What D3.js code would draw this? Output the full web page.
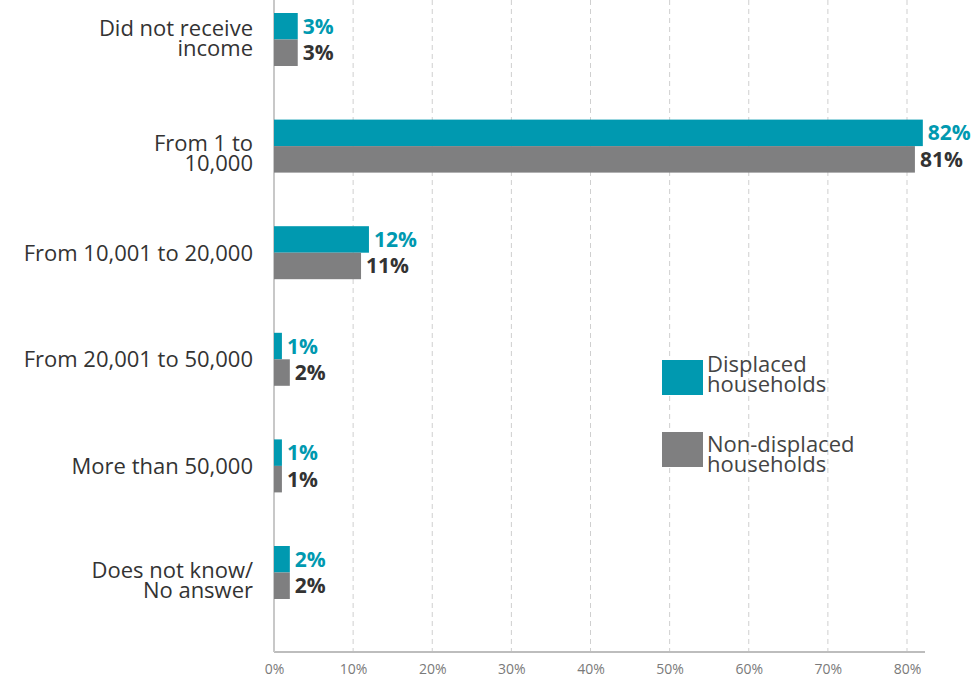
<!DOCTYPE html>
<html>
<head>
<meta charset="utf-8">
<script src="https://cdn.jsdelivr.net/npm/d3@7"></script>
<style>
  html, body { margin: 0; padding: 0; background: #fff; }
  svg { display: block; font-family: "Open Sans", Lato, sans-serif; }
</style>
</head>
<body>
<svg id="chart" width="973" height="682"></svg>
<script>
// Monthly income brackets and share of households in each
const categories = [
  ["Did not receive", "income"],
  ["From 1 to", "10,000"],
  ["From 10,001 to 20,000"],
  ["From 20,001 to 50,000"],
  ["More than 50,000"],
  ["Does not know/", "No answer"]
];
const displaced = [3, 82, 12, 1, 1, 2];
const nonDisplaced = [3, 81, 11, 2, 1, 2];
const seriesNames = [["Displaced", "households"], ["Non-displaced", "households"]];
const tickValues = [0, 10, 20, 30, 40, 50, 60, 70, 80];

const colors = { displaced: "#0099b0", nonDisplaced: "#7f7f80" };

const svg = d3.select("#chart");
const x0 = 274, axisY = 652;

const x = d3.scaleLinear().domain([0, 80]).range([x0, 907]);
const y = d3.scalePoint()
  .domain(d3.range(categories.length))
  .range([39.5, 572.5]);
const barH = 26.5;

// dashed vertical gridlines
svg.append("g")
  .selectAll("line")
  .data(tickValues.filter(d => d > 0))
  .join("line")
  .attr("x1", d => x(d)).attr("x2", d => x(d))
  .attr("y1", 0).attr("y2", axisY)
  .attr("stroke", "#cfcfcf")
  .attr("stroke-width", 1)
  .attr("stroke-dasharray", "5,4");

// x axis
const xAxis = svg.append("g")
  .attr("transform", `translate(0,${axisY})`)
  .call(d3.axisBottom(x).tickValues(tickValues).tickFormat(d => d + "%").tickSize(0).tickPadding(12));
xAxis.select(".domain").remove();
xAxis.selectAll("text")
  .attr("fill", "#7a7a7a")
  .style("font-size", "14px")
  .style("font-family", "'Open Sans', sans-serif");

svg.append("line")
  .attr("x1", x0).attr("x2", 925)
  .attr("y1", axisY).attr("y2", axisY)
  .attr("stroke", "#bdbdbd").attr("stroke-width", 2);
svg.append("line")
  .attr("x1", x0).attr("x2", x0)
  .attr("y1", 0).attr("y2", axisY)
  .attr("stroke", "#c8c8c8").attr("stroke-width", 2);

// bars
const rows = categories.map((c, i) => ({ i, d: displaced[i], n: nonDisplaced[i] }));
const g = svg.append("g");

g.selectAll("rect.disp")
  .data(rows).join("rect")
  .attr("class", "disp")
  .attr("x", x0)
  .attr("y", r => y(r.i) - barH)
  .attr("width", r => x(r.d) - x0)
  .attr("height", barH)
  .attr("fill", colors.displaced);

g.selectAll("rect.non")
  .data(rows).join("rect")
  .attr("class", "non")
  .attr("x", x0)
  .attr("y", r => y(r.i))
  .attr("width", r => x(r.n) - x0)
  .attr("height", barH)
  .attr("fill", colors.nonDisplaced);

// value labels
g.selectAll("text.dv")
  .data(rows).join("text")
  .attr("class", "dv")
  .attr("x", r => x(r.d) + 5)
  .attr("y", r => y(r.i) - barH / 2 + 7.5)
  .attr("fill", colors.displaced)
  .style("font-size", "21px")
  .style("font-weight", "bold")
  .text(r => r.d + "%");

g.selectAll("text.nv")
  .data(rows).join("text")
  .attr("class", "nv")
  .attr("x", r => x(r.n) + 5)
  .attr("y", r => y(r.i) + barH / 2 + 7.5)
  .attr("fill", "#333")
  .style("font-size", "21px")
  .style("font-weight", "bold")
  .text(r => r.n + "%");

// category labels: baseline of the first line relative to the bar pair centre
const lineH = 20;
const firstBaseline = (c, i) => c.length === 1 ? 8 : (i === 0 ? -4 : 5);
const cat = svg.append("g").selectAll("text")
  .data(categories).join("text")
  .attr("x", 253)
  .attr("y", (c, i) => y(i) + firstBaseline(c, i))
  .attr("text-anchor", "end")
  .attr("fill", "#333")
  .style("font-size", "22px");
cat.selectAll("tspan")
  .data(c => c).join("tspan")
  .attr("x", 253)
  .attr("dy", (t, j) => j === 0 ? 0 : lineH)
  .text(t => t);

// legend
const legend = svg.append("g");
const legendItems = [
  { name: seriesNames[0], color: colors.displaced, y: 360, base: 12 },
  { name: seriesNames[1], color: colors.nonDisplaced, y: 432, base: 20 }
];
const li = legend.selectAll("g").data(legendItems).join("g")
  .attr("transform", d => `translate(662,${d.y})`);
li.append("rect")
  .attr("width", 41).attr("height", 35)
  .attr("fill", d => d.color);
li.append("text")
  .attr("x", 45)
  .attr("y", d => d.base)
  .attr("fill", "#444")
  .style("font-size", "22px")
  .selectAll("tspan").data(d => d.name).join("tspan")
  .attr("x", 45)
  .attr("dy", (t, j) => j === 0 ? 0 : 19.5)
  .text(t => t);
</script>
</body>
</html>
